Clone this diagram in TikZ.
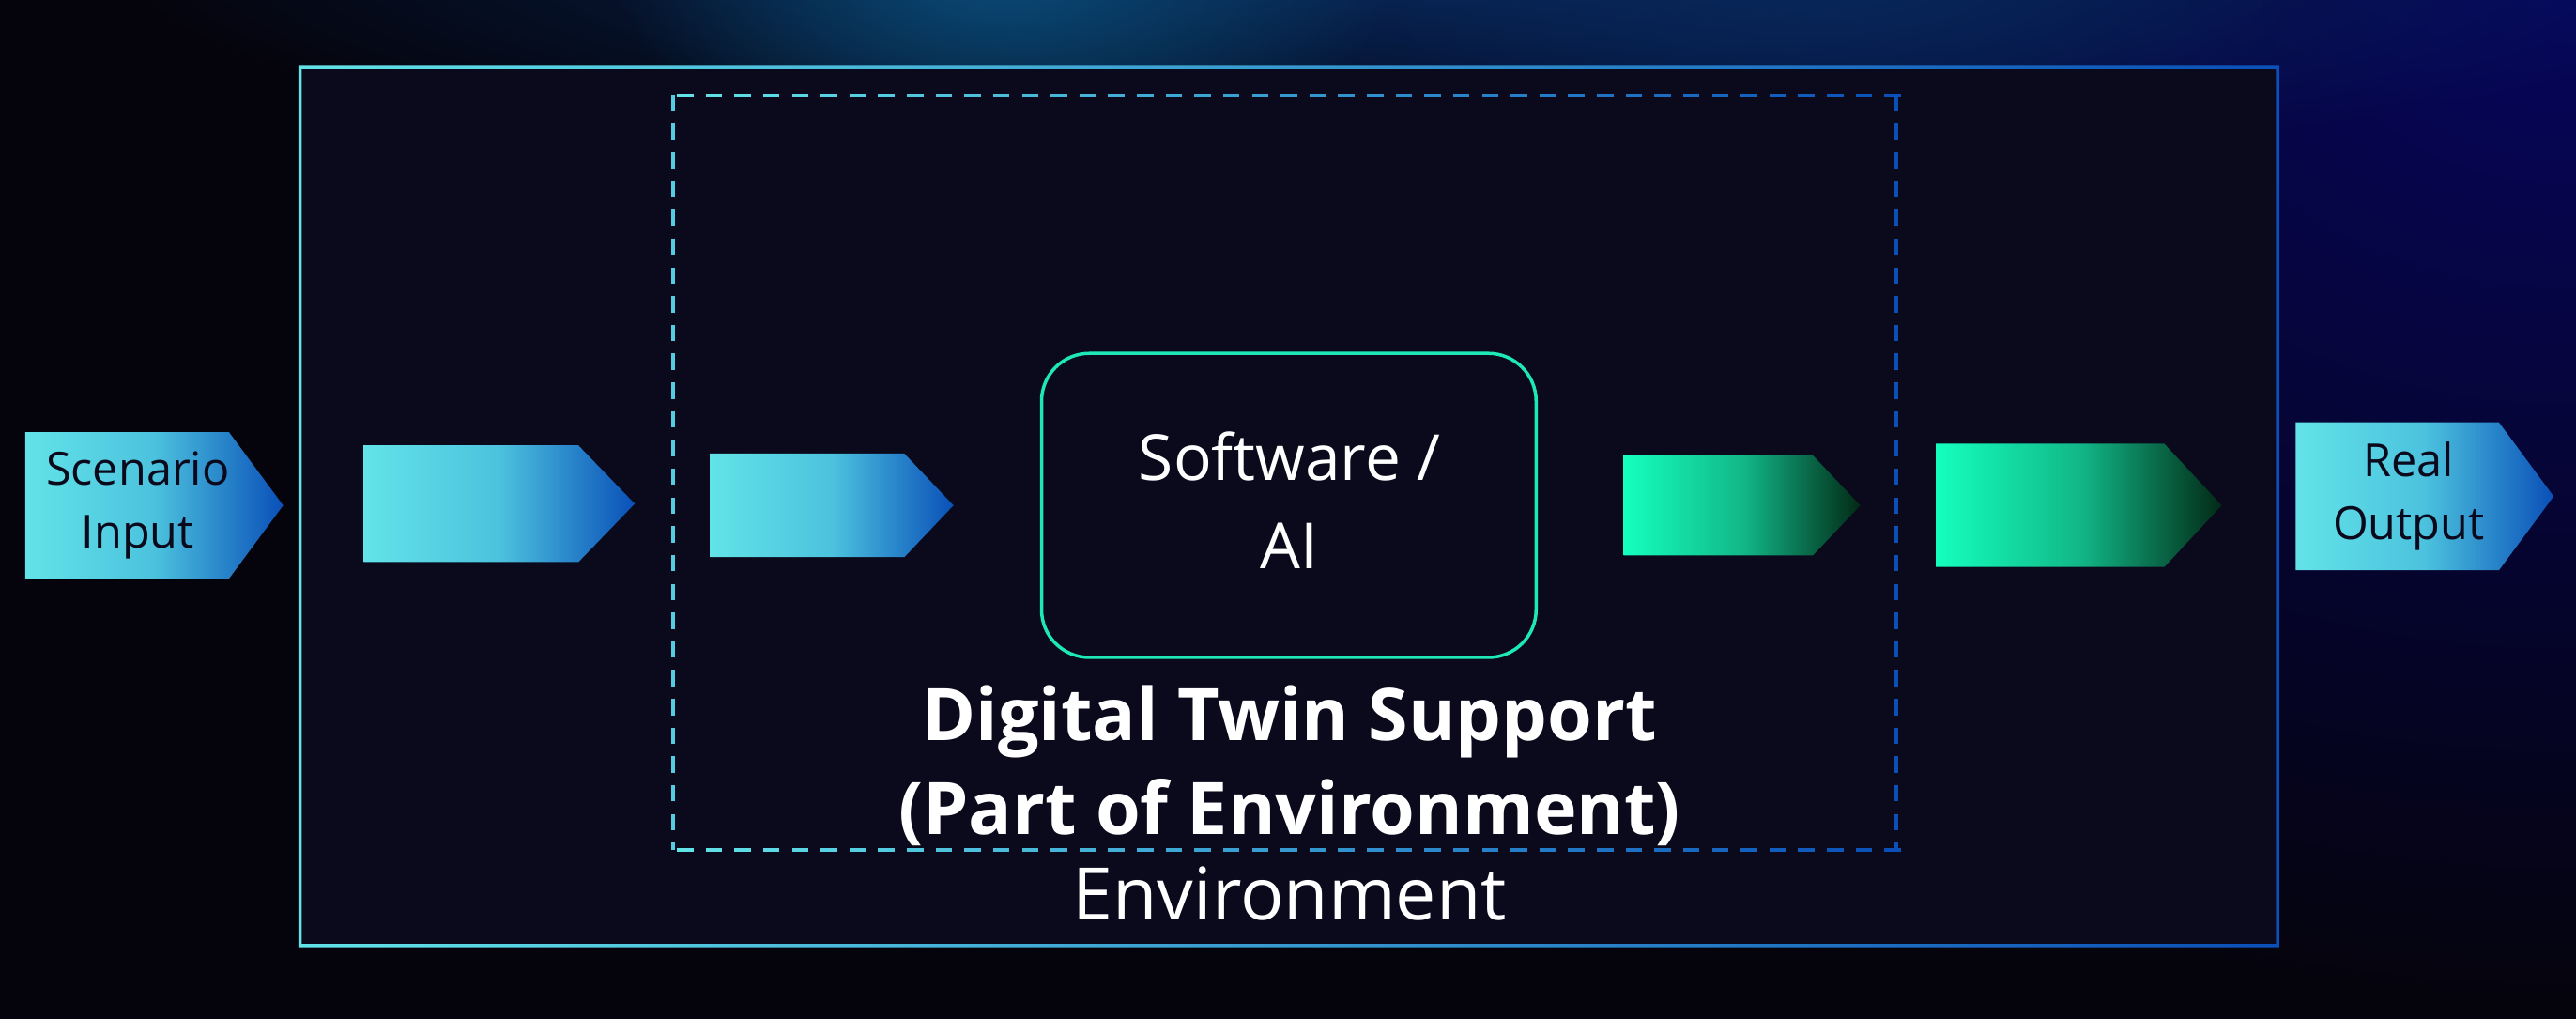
\documentclass[tikz,border=0pt]{standalone}
\usepackage{fontspec}
\setmainfont{Open Sans}
\usepackage{xcolor}
\usetikzlibrary{shapes.symbols, fadings}

\definecolor{bg dark}{HTML}{05040C}
\definecolor{bg blue}{HTML}{07065E}
\definecolor{glow teal}{HTML}{0A4C78}
\definecolor{glow navy}{HTML}{08285A}
\definecolor{panel}{HTML}{0A0A1C}
\definecolor{flow cyan}{HTML}{62E3E8}
\definecolor{flow mid}{HTML}{4CC2DE}
\definecolor{flow blue}{HTML}{0A50B8}
\definecolor{flow green}{HTML}{14FFBE}
\definecolor{flow teal}{HTML}{12B888}
\definecolor{flow dark}{HTML}{022A16}
\definecolor{core green}{HTML}{1EE8B4}
\definecolor{label ink}{HTML}{0A0A1C}

\tikzfading[name = soft glow, inner color = transparent!0, outer color = transparent!100]

\tikzset{
blue flow/.style = { signal, signal to = east, inner sep = 0pt, draw = none, anchor = west, left color = flow cyan, right color = flow blue, middle color = flow mid },
green flow/.style = { signal, signal to = east, inner sep = 0pt, draw = none, anchor = west, left color = flow green, right color = flow dark, middle color = flow teal },
flow label/.style = { text = label ink, font = \fontsize{15.8}{21.6}\selectfont, align = center },
core box/.style = { rectangle, draw = core green, line width = 0.4mm, fill = panel, minimum width = 60.2mm, minimum height = 37mm, rounded corners = 5.8mm },
core label/.style = { text = white, font = \fontsize{22}{30.7}\selectfont, align = center },
frame box/.style = { rectangle, draw = none, inner sep = 0pt },
twin dash/.style = { line width = 0.42mm, dash pattern = on 2mm off 1.5mm },
twin title/.style = { text = white, font = \fontsize{25.1}{32.4}\selectfont\bfseries, align = center },
env title/.style = { text = white, font = \fontsize{25.1}{30}\selectfont },
}

\begin{document}
\begin{tikzpicture}[x = 0.2mm, y = 0.2mm]
    \useasboundingbox (0, 0) rectangle (1568, 620);
    % backdrop
    \begin{scope}
    \clip (0, 0) rectangle (1568, 620);
    \fill[bg dark] (0, 0) rectangle (1568, 620);
    \fill[bg blue, path fading = soft glow] (1568, 640) ellipse [x radius = 820, y radius = 640];
    \fill[glow navy, path fading = soft glow] (880, 640) ellipse [x radius = 820, y radius = 130];
    \fill[glow teal, path fading = soft glow] (610, 640) ellipse [x radius = 240, y radius = 130];
    \fill[glow navy, path fading = soft glow] (1110, 640) ellipse [x radius = 300, y radius = 110];
    \end{scope}
    % environment frame
    \node[frame box, fill = panel, minimum width = 241mm, minimum height = 107.2mm] (environment) at (784.5, 312) {};
    \shade[left color = flow cyan, right color = flow blue, even odd rule] (environment.south west) rectangle (environment.north east) ([shift = {(2, 2)}]environment.south west) rectangle ([shift = {(-2, -2)}]environment.north east);
    % digital twin frame
    \node[frame box, minimum width = 148.8mm, minimum height = 91.8mm] (twin) at (782, 332.5) {};
    \draw[twin dash, draw = flow cyan!85!flow blue] (twin.north west) -- (twin.south west);
    \draw[twin dash, draw = flow blue] (twin.north east) -- (twin.south east);
    \foreach \i in {0,...,42} {
        \pgfmathsetmacro\p{100 - 100*\i/42}
        \draw[line width = 0.45mm, draw = flow cyan!\p!flow blue] ({412 + 17.5*\i}, 562) -- ++(10, 0);
        \draw[line width = 0.45mm, draw = flow cyan!\p!flow blue] ({412 + 17.5*\i}, 103) -- ++(10, 0);
    }
    % core
    \node[core box] (core) at (784.5, 312.5) {};
    \node[core label] (core label) at (785, 315.5) {Software /\\AI};
    \node[twin title] (twin label) at (785, 154) {Digital Twin Support\\(Part of Environment)};
    \node[env title] (env label) at (785, 76) {Environment};
    % flow arrows
    \node[blue flow, signal pointer angle = 107, minimum width = 31.4mm, minimum height = 17.8mm] (input) at (15, 312.5) {};
    \node[flow label] (input label) at ([xshift = 1.3mm]input.center) {Scenario\\Input};
    \node[blue flow, signal pointer angle = 92, minimum width = 33mm, minimum height = 14.2mm] (feed outer) at (221, 313.5) {};
    \node[blue flow, signal pointer angle = 93, minimum width = 29.6mm, minimum height = 12.6mm] (feed inner) at (432, 312.5) {};
    \node[green flow, signal pointer angle = 93, minimum width = 28.8mm, minimum height = 12.2mm] (result inner) at (988, 312.5) {};
    \node[green flow, signal pointer angle = 94, minimum width = 34.8mm, minimum height = 15mm] (result outer) at (1178, 312.5) {};
    \node[blue flow, signal pointer angle = 107, minimum width = 31.4mm, minimum height = 18mm] (output) at (1397, 318) {};
    \node[flow label] (output label) at ([xshift = 1.4mm]output.center) {Real\\Output};
\end{tikzpicture}
\end{document}
